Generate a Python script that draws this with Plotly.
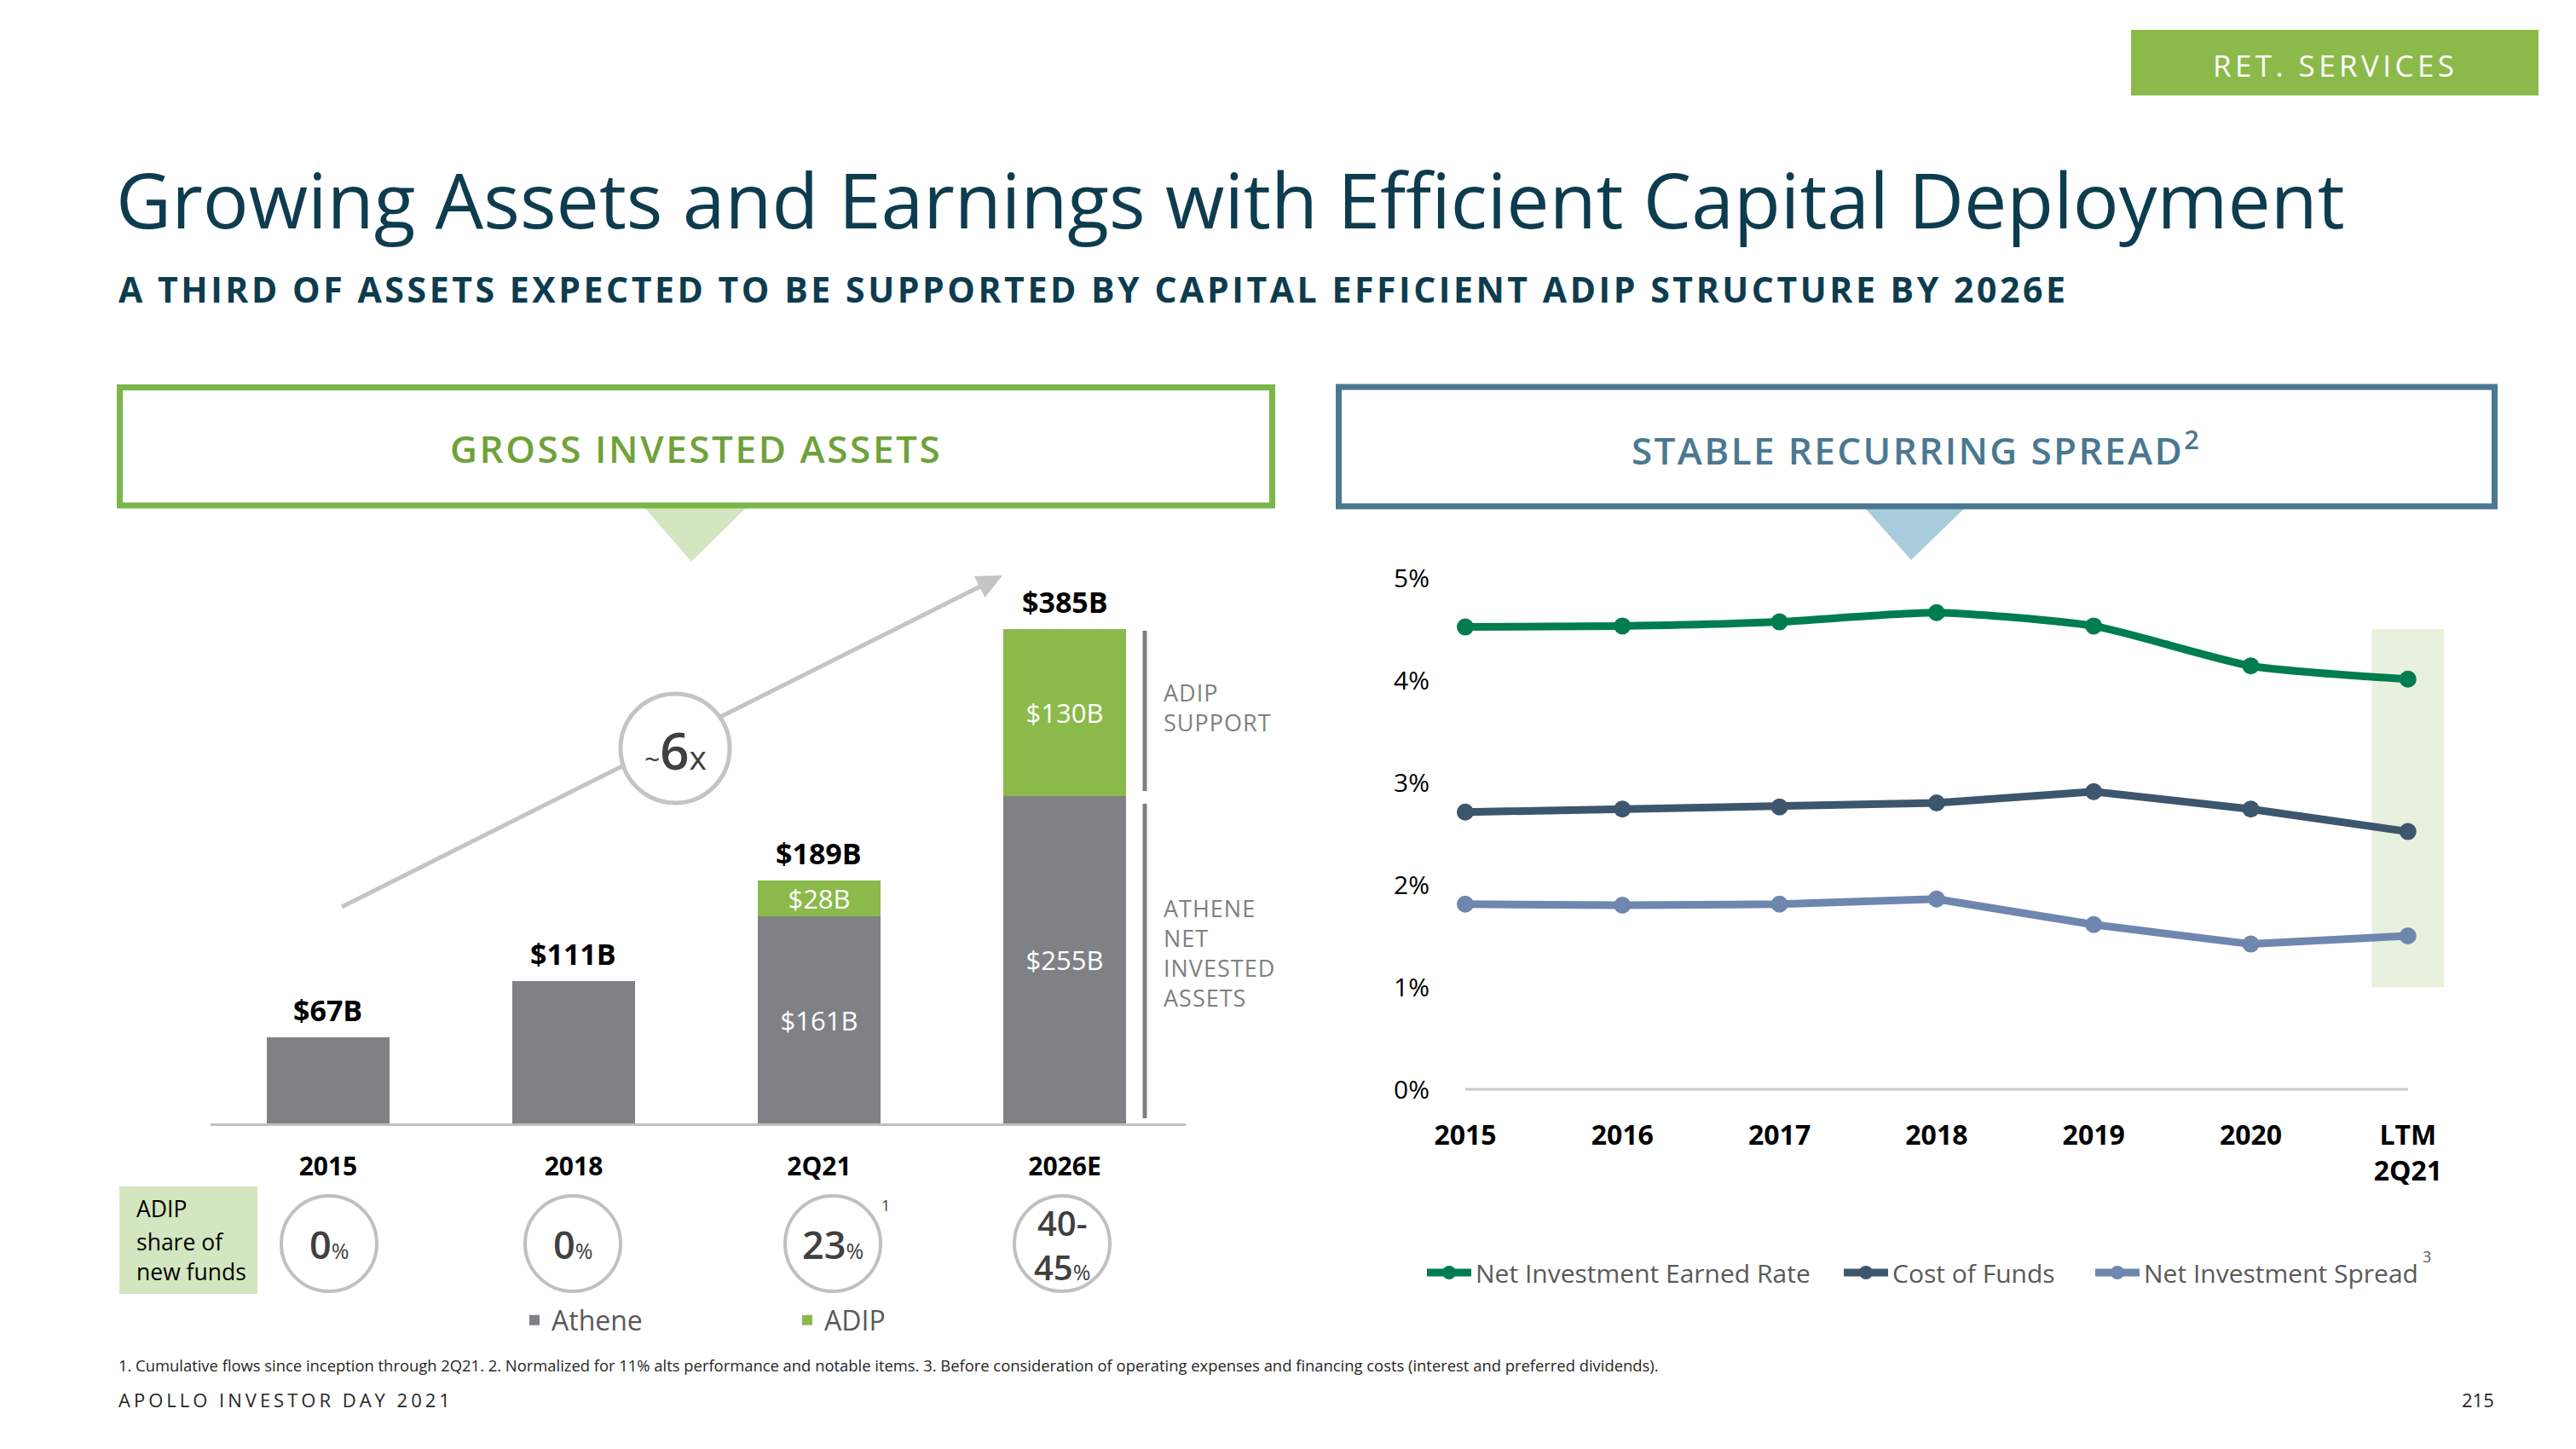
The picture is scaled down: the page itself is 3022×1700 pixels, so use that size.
import plotly.graph_objects as go

PAGE_W, PAGE_H = 3022, 1700
OFF = 8  # default page margin around the figure div
W, H = PAGE_W - 2 * OFF, PAGE_H - 2 * OFF
FONT = "Open Sans"


def px(x):
    return (x - OFF) / W


def py(y):
    return 1 - (y - OFF) / H


# ---------------- data ----------------
bar_categories = ["2015", "2018", "2Q21", "2026E"]
athene_values = [67, 111, 161, 255]
adip_values = [0, 0, 28, 130]
adip_share = ["0%", "0%", "23%", "40-45%"]

line_categories = ["2015", "2016", "2017", "2018", "2019", "2020", "LTM<br>2Q21"]
nier_values = [4.52, 4.53, 4.57, 4.66, 4.53, 4.14, 4.01]
cof_values = [2.71, 2.74, 2.76, 2.80, 2.91, 2.74, 2.52]
nis_values = [1.81, 1.80, 1.81, 1.86, 1.61, 1.42, 1.50]
y_ticks = [0, 1, 2, 3, 4, 5]
y_ticktext = [f"{v}%" for v in y_ticks]

# ---------------- styles ----------------
GRAY_BAR = "#808184"
GREEN_BAR = "#8BBA4B"
C_NIER = "#007D4F"
C_COF = "#3D566E"
C_NIS = "#6F86AF"
TITLE_C = "#0D3C4F"
LEG_C = "#595959"

fig = go.Figure()

# segment labels only on stacked bars (where ADIP is present)
seg_pos = ["inside" if d > 0 else "none" for d in adip_values]

# bars
fig.add_trace(go.Bar(
    x=bar_categories, y=athene_values, name="Athene",
    marker=dict(color=GRAY_BAR, line=dict(width=0)), width=0.503,
    text=[f"${v}B" for v in athene_values],
    textposition=seg_pos, insidetextanchor="middle", textangle=0,
    textfont=dict(color="white", size=31, family=FONT),
    legend="legend4", xaxis="x", yaxis="y", hoverinfo="skip"))
fig.add_trace(go.Bar(
    x=bar_categories, y=adip_values, name="ADIP",
    marker=dict(color=GREEN_BAR, line=dict(width=0)), width=0.503,
    text=[f"${v}B" for v in adip_values],
    textposition=seg_pos, insidetextanchor="middle", textangle=0,
    textfont=dict(color="white", size=31, family=FONT),
    legend="legend5", xaxis="x", yaxis="y", hoverinfo="skip"))

# lines
fig.add_trace(go.Scatter(
    x=line_categories, y=nier_values, mode="lines+markers",
    name="Net Investment Earned Rate",
    line=dict(color=C_NIER, width=9, shape="spline", smoothing=0.6),
    marker=dict(size=20, color=C_NIER), legend="legend",
    xaxis="x2", yaxis="y2", hoverinfo="skip"))
fig.add_trace(go.Scatter(
    x=line_categories, y=cof_values, mode="lines+markers",
    name="Cost of Funds",
    line=dict(color=C_COF, width=9),
    marker=dict(size=20, color=C_COF), legend="legend2",
    xaxis="x2", yaxis="y2", hoverinfo="skip"))
fig.add_trace(go.Scatter(
    x=line_categories, y=nis_values, mode="lines+markers",
    name="Net Investment Spread",
    line=dict(color=C_NIS, width=9),
    marker=dict(size=20, color=C_NIS), legend="legend3",
    xaxis="x2", yaxis="y2", hoverinfo="skip"))

shapes = []
annotations = []

# ---------------- header / titles ----------------
shapes.append(dict(type="rect", xref="paper", yref="paper",
                   x0=px(2500), x1=px(2978), y0=py(112), y1=py(35),
                   fillcolor=GREEN_BAR, line=dict(width=0)))
annotations.append(dict(xref="paper", yref="paper", x=px(2739), y=py(77),
                        text="<span style='letter-spacing:4.4px'>RET. SERVICES</span>",
                        showarrow=False, xanchor="center", yanchor="middle",
                        font=dict(family=FONT, size=35, color="white")))
annotations.append(dict(xref="paper", yref="paper", x=px(134), y=py(233),
                        text="Growing Assets and Earnings with Efficient Capital Deployment",
                        showarrow=False, xanchor="left", yanchor="middle",
                        font=dict(family=FONT, size=89.6, color=TITLE_C)))
annotations.append(dict(xref="paper", yref="paper", x=px(137), y=py(339),
                        text="<span style='letter-spacing:3.55px'>A THIRD OF ASSETS EXPECTED TO BE SUPPORTED BY CAPITAL EFFICIENT ADIP STRUCTURE BY 2026E</span>",
                        showarrow=False, xanchor="left", yanchor="middle",
                        font=dict(family=FONT, size=41, color=TITLE_C, weight=700)))

# left panel header
shapes.append(dict(type="path", xref="paper", yref="paper",
                   path=f"M {px(755)} {py(594)} L {px(877)} {py(594)} L {px(811)} {py(659)} Z",
                   fillcolor="#D3E6C0", line=dict(width=0)))
shapes.append(dict(type="rect", xref="paper", yref="paper",
                   x0=px(140.5), x1=px(1492.5), y0=py(593), y1=py(454.5),
                   fillcolor="white", line=dict(color="#7AB648", width=7)))
annotations.append(dict(xref="paper", yref="paper", x=px(816), y=py(526),
                        text="<span style='letter-spacing:2.6px'>GROSS INVESTED ASSETS</span>",
                        showarrow=False, xanchor="center", yanchor="middle",
                        font=dict(family=FONT, size=44, color="#6FA23A", weight=600)))
# right panel header
shapes.append(dict(type="path", xref="paper", yref="paper",
                   path=f"M {px(2186)} {py(594)} L {px(2307)} {py(594)} L {px(2242)} {py(657)} Z",
                   fillcolor="#A9CCDC", line=dict(width=0)))
shapes.append(dict(type="rect", xref="paper", yref="paper",
                   x0=px(1570.5), x1=px(2926.5), y0=py(594), y1=py(454),
                   fillcolor="white", line=dict(color="#4A7891", width=7)))
annotations.append(dict(xref="paper", yref="paper", x=px(2247), y=py(526),
                        text="<span style='letter-spacing:2.4px'>STABLE RECURRING SPREAD</span><sup>2</sup>",
                        showarrow=False, xanchor="center", yanchor="middle",
                        font=dict(family=FONT, size=44, color="#4A7891", weight=600)))

# ---------------- bar chart decorations ----------------
# stacked totals above each bar (category index used as x position on the category axis)
for i, (a, d) in enumerate(zip(athene_values, adip_values)):
    total = a + d
    annotations.append(dict(xref="x", yref="y", x=i, y=total, yshift=7,
                            text=f"${total}B", showarrow=False,
                            xanchor="center", yanchor="bottom",
                            font=dict(family=FONT, size=34, color="black", weight=700)))

# growth arrow (line + head), circle drawn over it
tip = (1176, 675)
start = (401, 1064)
dx, dy = tip[0] - start[0], tip[1] - start[1]
L = (dx * dx + dy * dy) ** 0.5
ux, uy = dx / L, dy / L
nx, ny = -uy, ux
hl, hw = 30, 14
bx, by = tip[0] - hl * ux, tip[1] - hl * uy
shapes.append(dict(type="line", xref="paper", yref="paper",
                   x0=px(start[0]), y0=py(start[1]), x1=px(bx + 2 * ux), y1=py(by + 2 * uy),
                   line=dict(color="#C4C4C4", width=5)))
shapes.append(dict(type="path", xref="paper", yref="paper",
                   path=(f"M {px(tip[0])} {py(tip[1])} L {px(bx + hw * nx)} {py(by + hw * ny)} "
                         f"L {px(bx - hw * nx)} {py(by - hw * ny)} Z"),
                   fillcolor="#C4C4C4", line=dict(width=0)))
cx6, cy6, r6 = 792, 878, 64
shapes.append(dict(type="circle", xref="paper", yref="paper",
                   x0=px(cx6 - r6), x1=px(cx6 + r6), y0=py(cy6 + r6), y1=py(cy6 - r6),
                   fillcolor="white", line=dict(color="#C4C4C4", width=5)))
annotations.append(dict(xref="paper", yref="paper", x=px(cx6), y=py(cy6 + 2),
                        text="<span style='font-size:32px;font-weight:400'>~</span>6<span style='font-size:39px;font-weight:400'>x</span>",
                        showarrow=False, xanchor="center", yanchor="middle",
                        font=dict(family=FONT, size=60, color="#404040", weight=600)))

# brackets to the right of 2026E
shapes.append(dict(type="line", xref="paper", yref="paper",
                   x0=px(1343), x1=px(1343), y0=py(740), y1=py(928),
                   line=dict(color="#808080", width=5)))
shapes.append(dict(type="line", xref="paper", yref="paper",
                   x0=px(1343), x1=px(1343), y0=py(943), y1=py(1312),
                   line=dict(color="#808080", width=5)))
annotations.append(dict(xref="paper", yref="paper", x=px(1363), y=py(830),
                        text="<span style='letter-spacing:1px'>ADIP<br>SUPPORT</span>",
                        showarrow=False, xanchor="left", yanchor="middle", align="left",
                        font=dict(family=FONT, size=27, color="#808080")))
annotations.append(dict(xref="paper", yref="paper", x=px(1363), y=py(1118),
                        text="<span style='letter-spacing:1px'>ATHENE<br>NET<br>INVESTED<br>ASSETS</span>",
                        showarrow=False, xanchor="left", yanchor="middle", align="left",
                        font=dict(family=FONT, size=27, color="#808080")))

# ADIP share of new funds
shapes.append(dict(type="rect", xref="paper", yref="paper",
                   x0=px(140), x1=px(302), y0=py(1518), y1=py(1392),
                   fillcolor="#D3E6C0", line=dict(width=0)))
for txt, yy in [("ADIP", 1418), ("share of", 1457), ("new funds", 1492)]:
    annotations.append(dict(xref="paper", yref="paper", x=px(158), y=py(yy),
                            text=txt, showarrow=False, xanchor="left", yanchor="middle",
                            font=dict(family=FONT, size=26.5, color="black")))

circle_cx = [386, 672, 977, 1246]
circle_cy, circle_r = 1459, 56
for s, cxx in zip(adip_share, circle_cx):
    shapes.append(dict(type="circle", xref="paper", yref="paper",
                       x0=px(cxx - circle_r), x1=px(cxx + circle_r),
                       y0=py(circle_cy + circle_r), y1=py(circle_cy - circle_r),
                       fillcolor="white", line=dict(color="#C0C0C0", width=4)))
    num = s.rstrip("%")
    pct = "<span style='font-size:25px;font-weight:400'>%</span>"
    if "-" in num:
        lo, hi = num.split("-")
        annotations.append(dict(xref="paper", yref="paper", x=px(cxx), y=py(circle_cy + 1),
                                text=f"{lo}-<br>{hi}{pct}", showarrow=False,
                                xanchor="center", yanchor="middle", align="center",
                                font=dict(family=FONT, size=40, color="#404040", weight=600)))
    else:
        annotations.append(dict(xref="paper", yref="paper", x=px(cxx), y=py(circle_cy),
                                text=f"{num}{pct}", showarrow=False, xanchor="center", yanchor="middle",
                                font=dict(family=FONT, size=45, color="#404040", weight=600)))
annotations.append(dict(xref="paper", yref="paper", x=px(1039), y=py(1414),
                        text="1", showarrow=False, xanchor="center", yanchor="middle",
                        font=dict(family=FONT, size=18, color="#404040")))

# ---------------- line chart decorations ----------------
shapes.append(dict(type="rect", xref="x2", yref="y2", x0=5.77, x1=6.23, y0=1.0, y1=4.5,
                   fillcolor="#E8F1DE", line=dict(width=0), layer="below"))
shapes.append(dict(type="line", xref="x2", yref="y2", x0=0, x1=6, y0=0, y1=0,
                   line=dict(color="#C8C8C8", width=3), layer="below"))
annotations.append(dict(xref="paper", yref="paper", x=px(2847), y=py(1474),
                        text="3", showarrow=False, xanchor="center", yanchor="middle",
                        font=dict(family=FONT, size=18, color=LEG_C)))

# ---------------- footer ----------------
annotations.append(dict(xref="paper", yref="paper", x=px(137), y=py(1601),
                        text=("1. Cumulative flows since inception through 2Q21. 2. Normalized for 11% alts performance "
                              "and notable items. 3. Before consideration of operating expenses and financing costs "
                              "(interest and preferred dividends)."),
                        showarrow=False, xanchor="left", yanchor="middle",
                        font=dict(family=FONT, size=18.4, color="#262626")))
annotations.append(dict(xref="paper", yref="paper", x=px(137), y=py(1642),
                        text="<span style='letter-spacing:4px'>APOLLO INVESTOR DAY 2021</span>",
                        showarrow=False, xanchor="left", yanchor="middle",
                        font=dict(family=FONT, size=22, color="#262626")))
annotations.append(dict(xref="paper", yref="paper", x=px(2928), y=py(1642),
                        text="215", showarrow=False, xanchor="right", yanchor="middle",
                        font=dict(family=FONT, size=22, color="#262626")))


def leg(x, y, size=30):
    return dict(x=px(x), y=py(y), xanchor="left", yanchor="middle", orientation="h",
                bgcolor="rgba(0,0,0,0)", borderwidth=0,
                font=dict(family=FONT, size=size, color=LEG_C))


legend_nier = leg(1669, 1493)
legend_cof = leg(2158, 1493)
legend_nis = leg(2453, 1493)
legend_ath = leg(607, 1549, 32)
legend_adip = leg(927, 1549, 32)
for l in (legend_nier, legend_cof, legend_nis):
    l["itemwidth"] = 52

fig.update_layout(
    width=W, height=H, autosize=False,
    margin=dict(l=0, r=0, t=0, b=0, pad=0, autoexpand=False),
    paper_bgcolor="white", plot_bgcolor="rgba(0,0,0,0)",
    font=dict(family=FONT, color="black"),
    barmode="stack",
    uniformtext=dict(minsize=31, mode="show"),
    showlegend=True,
    legend=legend_nier, legend2=legend_cof, legend3=legend_nis,
    legend4=legend_ath, legend5=legend_adip,
    xaxis=dict(domain=[px(247), px(1391)], anchor="y", type="category",
               categoryorder="array", categoryarray=bar_categories,
               range=[-0.479, 3.493], showline=True, linecolor="#BFBFBF", linewidth=3,
               ticks="", showgrid=False, zeroline=False, ticklabelstandoff=22, automargin=False,
               tickfont=dict(family=FONT, size=30, color="black", weight=700), fixedrange=True),
    yaxis=dict(domain=[py(1318), py(700)], anchor="x", range=[0, 410.2],
               visible=False, fixedrange=True, automargin=False),
    xaxis2=dict(domain=[px(1700), px(2900)], anchor="y2", type="category",
                range=[-0.103, 6.408], showline=False, ticks="", showgrid=False,
                zeroline=False, ticklabelstandoff=20, automargin=False,
                tickfont=dict(family=FONT, size=32, color="black", weight=700), fixedrange=True),
    yaxis2=dict(domain=[py(1290), py(660)], anchor="x2", range=[-0.1, 5.15],
                tickmode="array", tickvals=y_ticks, ticktext=y_ticktext,
                showgrid=False, zeroline=False, automargin=False,
                showline=False, ticks="", ticklabelstandoff=22,
                tickfont=dict(family=FONT, size=30, color="black"), fixedrange=True),
    shapes=shapes, annotations=annotations,
)

fig.write_html("out.html")
